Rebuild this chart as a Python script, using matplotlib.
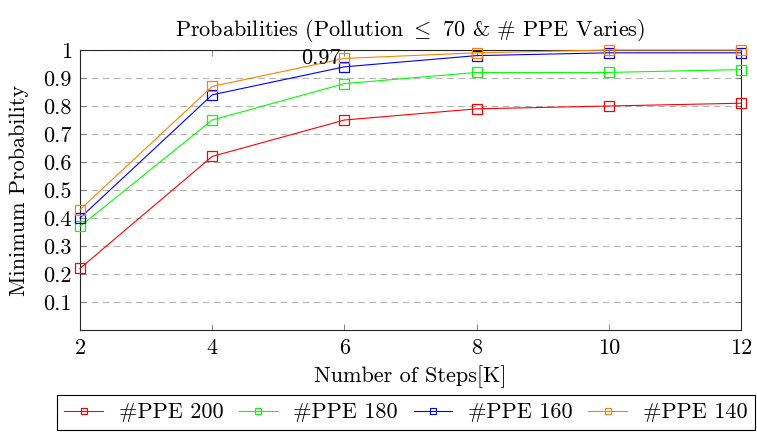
import matplotlib
matplotlib.use("Agg")
import matplotlib.pyplot as plt
from matplotlib.lines import Line2D

plt.rcParams['font.family'] = ['cmr10', 'DejaVu Serif']
plt.rcParams['mathtext.fontset'] = 'cm'
plt.rcParams['axes.formatter.use_mathtext'] = True

steps = [2, 4, 6, 8, 10, 12]
ppe200 = [0.22, 0.62, 0.75, 0.79, 0.80, 0.81]
ppe180 = [0.37, 0.75, 0.88, 0.92, 0.92, 0.93]
ppe160 = [0.40, 0.84, 0.94, 0.98, 0.99, 0.99]
ppe140 = [0.43, 0.87, 0.97, 0.99, 1.00, 1.00]
series_labels = ['#PPE 200', '#PPE 180', '#PPE 160', '#PPE 140']
colors = ['#ff0000', '#00ff00', '#0000ff', '#ff8000']
yticks = [0.1, 0.2, 0.3, 0.4, 0.5, 0.6, 0.7, 0.8, 0.9, 1.0]
ytick_labels = ['0.1', '0.2', '0.3', '0.4', '0.5', '0.6', '0.7', '0.8', '0.9', '1']
annot_x, annot_y, annot_text = 6, 0.97, '0.97'

fs = 16
fig = plt.figure(figsize=(7.57, 4.38), dpi=100)
ax = fig.add_axes([0.1057, 0.2466, 0.8732, 0.6392])

for ys, c in zip([ppe200, ppe180, ppe160, ppe140], colors):
    ax.plot(steps, ys, color=c, lw=0.8, marker='s', markersize=7.5,
            markerfacecolor='none', markeredgecolor=c, markeredgewidth=0.9,
            clip_on=False, zorder=3)

ax.set_xlim(2, 12)
ax.set_ylim(0, 1)
ax.set_xticks(steps)
ax.set_xticklabels([str(s) for s in steps], fontsize=fs)
ax.set_yticks(yticks)
ax.set_yticklabels(ytick_labels, fontsize=fs)
ax.tick_params(direction='in', length=4, width=0.6, color='0.45',
               top=True, right=True, pad=6)
ax.yaxis.grid(True, linestyle=(0, (6, 4)), color='0.7', lw=0.8)
ax.set_axisbelow(True)
for s in ax.spines.values():
    s.set_linewidth(0.8)
    s.set_color('0.15')

ax.text(annot_x - 0.06, annot_y, annot_text, ha='right', va='center', fontsize=fs)

ax.set_title(r'Probabilities (Pollution ${\leq}$ 70 & # PPE Varies)', fontsize=fs, pad=10)
ax.set_xlabel('Number of Steps[K]', fontsize=fs, labelpad=5)
ax.set_ylabel('Minimum Probability', fontsize=fs, labelpad=10)

handles = [Line2D([], [], color=c, lw=0.8, marker='s', markersize=5,
                  markerfacecolor='none', markeredgewidth=0.8) for c in colors]
leg = fig.legend(handles, series_labels, loc='upper center', ncol=4,
                 bbox_to_anchor=(0.536, 0.098), fontsize=fs, frameon=True,
                 fancybox=False, edgecolor='black', framealpha=1,
                 handlelength=1.75, columnspacing=0.7, borderpad=0.35,
                 handletextpad=0.7, borderaxespad=0)
leg.get_frame().set_linewidth(0.8)

fig.savefig('out.png', dpi=100)
